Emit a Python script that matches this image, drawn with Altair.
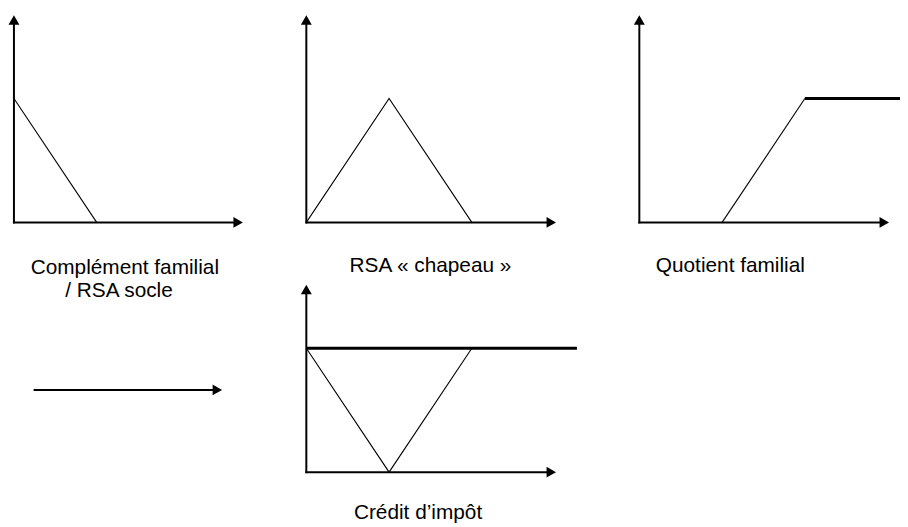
import altair as alt
import pandas as pd

# ---------------- data (schematic curves, in abstract units) ----------------
# Complément familial / RSA socle : decreasing from a starting level to zero
cf_x = [0, 1]
cf_y = [1, 0]
# RSA « chapeau » : rises then falls
rsa_x = [0, 1, 2]
rsa_y = [0, 1, 0]
# Quotient familial : zero, ramp, then capped
qf_ramp_x = [1, 2]
qf_ramp_y = [0, 1]
qf_cap_x = [2, 3.15]
qf_cap_y = [1, 1]
# Crédit d'impôt : flat level and V-shaped credit
ci_flat_x = [0, 3.27]
ci_flat_y = [1, 1]
ci_v_x = [0, 1, 2]
ci_v_y = [1, 0, 1]

captions = {
    "cf": ["Complément familial", "/ RSA socle"],
    "rsa": ["RSA « chapeau »"],
    "qf": ["Quotient familial"],
    "ci": ["Crédit d’impôt"],
}

# ---------------- layout ----------------
W, H = 900, 519          # chart = page area from (8,8)
UX, UY = 83.5, 125.0     # pixels per unit
FONT = "Liberation Sans"
FS = 21


def domains(ox_page, oy_page):
    ox, oy = ox_page - 8, oy_page - 8
    xd = [-ox / UX, (W - ox) / UX]
    yd = [-(H - oy) / UY, oy / UY]
    return xd, yd


def enc(xd, yd, xf="x", yf="y"):
    return dict(
        x=alt.X(f"{xf}:Q", scale=alt.Scale(domain=xd, nice=False, zero=False), axis=None),
        y=alt.Y(f"{yf}:Q", scale=alt.Scale(domain=yd, nice=False, zero=False), axis=None),
    )


def panel(origin, xlen, ylen, curves, caps):
    xd, yd = domains(*origin)
    layers = []
    axes = pd.DataFrame({"x": [0, 0], "y": [0, 0], "x2": [xlen, 0], "y2": [0, ylen]})
    e = enc(xd, yd)
    layers.append(
        alt.Chart(axes).mark_rule(color="black", strokeWidth=2, strokeCap="square")
        .encode(**e, x2="x2:Q", y2="y2:Q")
    )
    if ylen:
        layers.append(
            alt.Chart(pd.DataFrame({"x": [0], "y": [ylen]}))
            .mark_point(shape="triangle-up", filled=True, color="black", size=121, opacity=1, strokeWidth=0)
            .encode(**e)
        )
    layers.append(
        alt.Chart(pd.DataFrame({"x": [xlen], "y": [0]}))
        .mark_point(shape="triangle-right", filled=True, color="black", size=121, opacity=1, strokeWidth=0)
        .encode(**e)
    )
    for xs, ys, sw in curves:
        layers.append(
            alt.Chart(pd.DataFrame({"x": xs, "y": ys}))
            .mark_line(color="black", strokeWidth=sw, strokeCap="butt")
            .encode(**e)
        )
    if caps:
        layers.append(
            alt.Chart(pd.DataFrame(caps))
            .mark_text(font=FONT, fontSize=FS, color="black", align="center", baseline="alphabetic")
            .encode(**e, text="t:N")
        )
    return alt.layer(*layers)


def cap_rows(texts, xs, ys):
    return {"t": texts, "x": xs, "y": ys}


p1 = panel((14, 222), 2.709, 1.634,
           [(cf_x, cf_y, 1.1)],
           cap_rows(captions["cf"], [1.34, 1.27], [-0.42, -0.6]))
p2 = panel((309, 222), 2.96, 1.634,
           [(rsa_x, rsa_y, 1.1)],
           cap_rows(captions["rsa"], [1.5], [-0.404]))
p3 = panel((645, 222), 2.96, 1.634,
           [(qf_ramp_x, qf_ramp_y, 1.1), (qf_cap_x, qf_cap_y, 3)],
           cap_rows(captions["qf"], [1.10], [-0.404]))
p4 = panel((309, 474), 2.96, 1.474,
           [(ci_v_x, ci_v_y, 1.1), (ci_flat_x, ci_flat_y, 3)],
           cap_rows(captions["ci"], [1.35], [-0.376]))
p5 = panel((35, 391), 2.206, 0, [], None)

chart = (
    alt.layer(p1, p2, p3, p4, p5)
    .resolve_scale(x="independent", y="independent")
    .properties(width=W, height=H, padding=0,
                autosize=alt.AutoSizeParams(type="none"),
                background="white")
    .configure_view(stroke=None)
)

chart.save("out.html", embed_options={"renderer": "svg", "actions": False})
